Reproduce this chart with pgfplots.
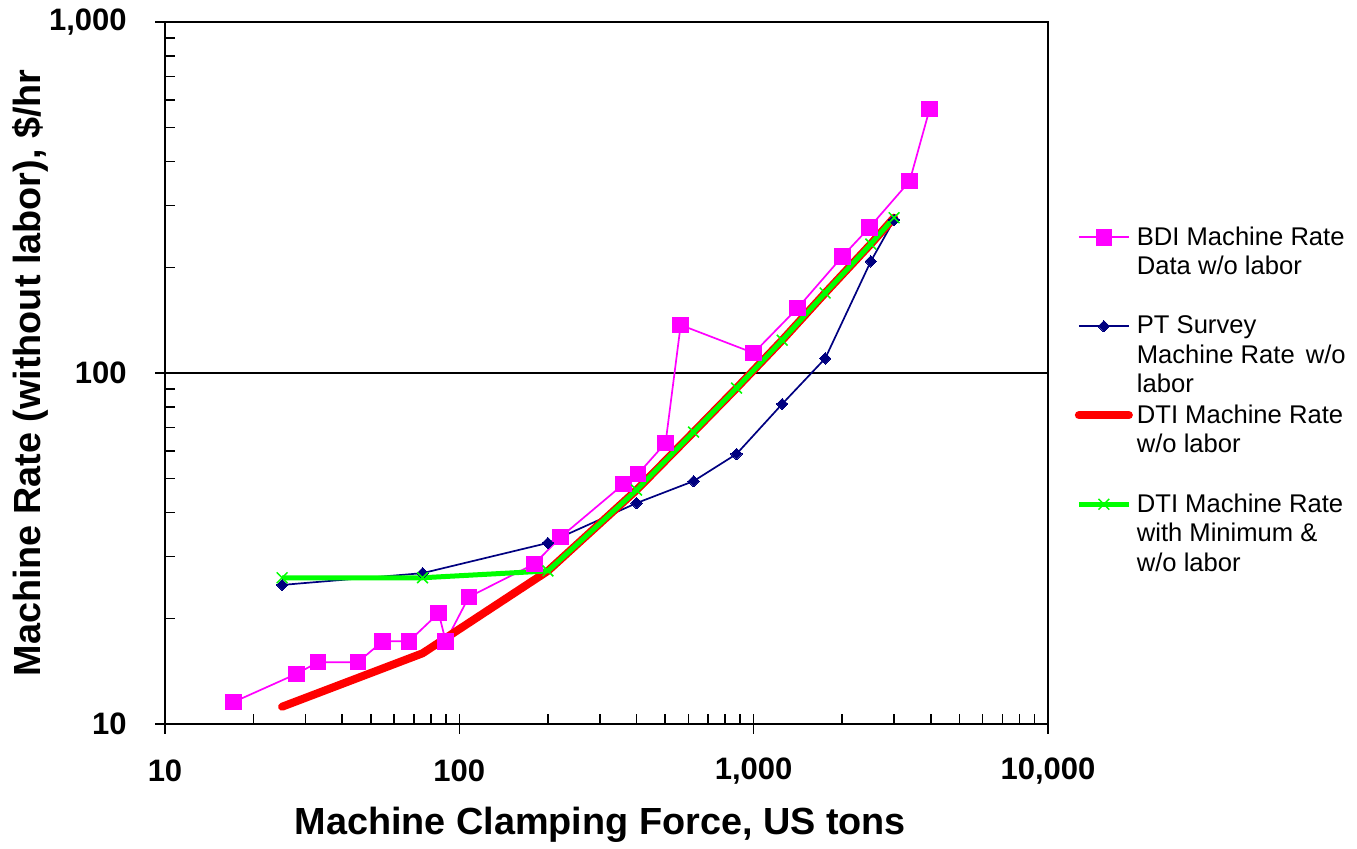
\documentclass[border=0pt]{standalone}
\usepackage{fontspec}
\setmainfont{Liberation Sans}
\usepackage{pgfplots}
\pgfplotsset{compat=1.18}
\definecolor{bdi}{HTML}{FF00FF}
\definecolor{pts}{HTML}{000080}
\definecolor{dtired}{HTML}{FF0000}
\definecolor{dtigreen}{HTML}{00FF00}
\begin{document}
\begin{tikzpicture}
\begin{axis}[
  at={(0pt,0pt)}, anchor=south west,
  scale only axis,
  width=441.5pt, height=351pt,
  xmode=log, ymode=log,
  xmin=10, xmax=10000, ymin=10, ymax=1000,
  xtick={10,100,1000,10000},
  xticklabels={10,100,{1,000},{10,000}},
  ytick={10,100,1000},
  yticklabels={10,100,{1,000}},
  xtick pos=bottom, ytick pos=left,
  tick label style={font=\fontsize{15.5}{18}\selectfont\bfseries},
  xticklabel style={anchor=center, inner sep=0pt, yshift=-18.5pt},
  yticklabel style={anchor=east, inner sep=0pt, xshift=-14pt},
  tick align=center,
  major tick length=10pt,
  minor tick length=5pt,
  minor x tick style={yshift=2.5pt},
  minor y tick style={xshift=2.5pt},
  every tick/.style={black, line width=0.8pt},
  axis line style={black, line width=0.9pt},
  ymajorgrids, grid style={black, line width=0.8pt},
  xlabel={Machine Clamping Force, US tons},
  ylabel={Machine Rate (without labor), \$/hr},
  label style={font=\fontsize{18.9}{22}\selectfont\bfseries},
  xlabel style={at={(axis description cs:0.493,-0.1439)}, anchor=center},
  ylabel style={at={(axis description cs:-0.1529,0.5)}, anchor=center},
  legend cell align=left,
  legend image code/.code={\draw[mark repeat=2,mark phase=2,#1] plot coordinates {(0pt,0pt)(12.5pt,0pt)(25pt,0pt)};},
  legend style={at={(axis description cs:1.030,0.715)}, anchor=north west,
    draw=none, fill=none, inner sep=0pt, row sep={44.5pt,between origins}, column sep=0pt,
    font=\fontsize{12.8}{14.75}\selectfont},
]
\addplot[color=bdi, line width=0.85pt, mark=square*, mark size=3.9pt, mark options={fill=bdi, draw=bdi, line width=0pt}] coordinates {
(17.1,11.55) (28,13.9) (33.1,15.0) (45.2,15.0) (54.9,17.2) (67.4,17.2)
(85.1,20.7) (89.9,17.2) (107.7,23.0) (180,28.6) (221,34.1) (362,48.3)
(404,51.5) (502,63.2) (565,137) (1000,114) (1409,153) (2004,215)
(2476,260) (3388,352) (3963,565)
};
\addlegendentry{\parbox[t]{115pt}{BDI Machine Rate\\Data w/o labor}}
\addplot[color=pts, line width=0.85pt, mark=square*, mark size=2pt, mark options={rotate=45, fill=pts, draw=pts, line width=0pt}] coordinates {
(25,24.9) (75,26.9) (200,32.8) (400,42.6) (625,49.2) (875,58.8)
(1250,81.6) (1750,110) (2500,208) (3000,273)
};
\addlegendentry{\parbox[t]{115pt}{PT Survey\\Machine Rate\hspace{2pt} w/o\\labor}}
\addplot[color=dtired, line width=4pt, line cap=round, line join=round, no markers] coordinates {
(25,11.2) (75,15.9) (200,27.3) (400,46.4) (625,67.9) (875,90.6)
(1250,124) (1750,169) (2500,233) (3000,277)
};
\addlegendentry{\parbox[t]{115pt}{DTI Machine Rate\\w/o labor}}
\addplot[color=dtigreen, line width=2.5pt, line join=round, mark=x, mark size=3.8pt, mark options={line width=0.75pt}] coordinates {
(25,26.1) (75,26.1) (200,27.3) (400,46.4) (625,67.9) (875,90.6)
(1250,124) (1750,169) (2500,233) (3000,277)
};
\addlegendentry{\parbox[t]{115pt}{DTI Machine Rate\\with Minimum \&\\w/o labor}}
\end{axis}
\pgfresetboundingbox
\path (-82.5pt,-62pt) rectangle (596pt,362pt);
\end{tikzpicture}
\end{document}
